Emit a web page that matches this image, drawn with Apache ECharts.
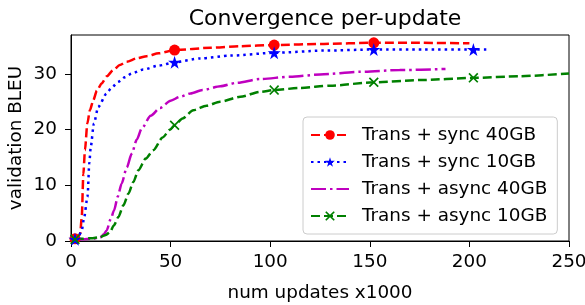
<!DOCTYPE html>
<html>
<head>
<meta charset="utf-8">
<script src="https://cdn.jsdelivr.net/npm/echarts@6/dist/echarts.min.js"></script>
<style>
  html, body { margin: 0; padding: 0; background: #fff; }
  #chart { width: 585px; height: 305px; }
</style>
</head>
<body>
<div id="chart"></div>
<script>
// values (x in thousands of updates, y = BLEU)
var sync40 = [[2,0.4],[4,1],[4.6,1.3],[5.4,4.3],[6.2,12],[7,16.3],[8.2,21.1],[9.5,23.5],[11.2,25.3],[13,27],[15.4,28.3],[18,29.6],[21.2,30.7],[24.5,31.6],[28,32.2],[33,32.8],[38,33.2],[44,33.7],[52,34.3],[70,34.7],[85,35],[102,35.2],[127,35.4],[152,35.6],[175,35.6],[200,35.5]];
var sync10 = [[2,0.3],[4,1],[5.4,1.9],[6.5,4],[8.3,8],[9.2,14],[9.9,16.9],[11.5,21.1],[13.7,24.1],[17.9,26.5],[20.5,27.6],[23.8,28.6],[27,29.4],[30.5,30.1],[36.3,30.8],[44,31.5],[52,32.1],[65,32.8],[80,33.3],[102,33.8],[127,34.2],[152,34.4],[177,34.4],[202,34.4],[209,34.4]];
var async40 = [[2,0.2],[6,0.3],[10,0.4],[14.6,0.6],[16.5,1.2],[17.9,1.9],[20,4],[21.6,5.5],[23.5,8],[25.4,10.3],[28,13.2],[30.5,15.7],[33,18.2],[35.5,20.2],[40,22.5],[44.7,23.9],[50,25.2],[54.7,25.9],[60,26.5],[66,27.1],[75,27.8],[83,28.4],[95,29.1],[110,29.5],[125,29.9],[145,30.4],[165,30.7],[188,30.9]];
var async10 = [[2,0.3],[5,0.4],[10,0.5],[14.6,0.7],[17.5,1.1],[19.6,1.6],[21.5,2.8],[23.8,4.3],[26.3,6.4],[28.8,8.5],[31.3,10.6],[33.8,12.7],[37.5,14.8],[41.3,16.3],[46,18.6],[49.7,20],[52,20.8],[56,22],[61.4,23.5],[68,24.3],[74.8,25],[85,25.9],[95,26.8],[102,27.1],[115,27.5],[130,27.9],[152,28.5],[175,28.9],[202,29.3],[225,29.6],[250,30.1]];
var markerX = [2, 52, 102, 152, 202];
var xTicks = [0, 50, 100, 150, 200, 250];
var yTicks = [0, 10, 20, 30];

var FONT = 'DejaVu Sans';

// matplotlib-like star and x markers
function starPath() {
    var d = '';
    for (var i = 0; i < 10; i++) {
        var r = i % 2 ? 0.382 : 1;
        var a = (-90 + i * 36) * Math.PI / 180;
        d += (i ? 'L' : 'M') + (r * Math.cos(a)).toFixed(3) + ',' + (r * Math.sin(a)).toFixed(3);
    }
    return 'path://' + d + 'Z';
}
var xPath = 'path://M0,1.2L1.2,0L5,3.8L8.8,0L10,1.2L6.2,5L10,8.8L8.8,10L5,6.2L1.2,10L0,8.8L3.8,5Z';

function withMarkers(points) {
    return points.map(function (p) {
        if (markerX.indexOf(p[0]) >= 0) return { value: p };
        return { value: p, symbol: 'none' };
    });
}

function makeSeries(name, points, color, dash, symbol, size) {
    return {
        name: name,
        type: 'line',
        data: symbol === 'none' ? points : withMarkers(points),
        symbol: symbol,
        symbolSize: size,
        showSymbol: symbol !== 'none',
        smooth: 0.25,
        smoothMonotone: 'x',
        color: color,
        itemStyle: { color: color },
        lineStyle: { color: color, width: 2.5, type: dash },
        emphasis: { disabled: true },
        animation: false
    };
}

var chart = echarts.init(document.getElementById('chart'));

var legendText = { fontFamily: FONT, fontSize: 18.4, color: '#000', padding: [0, 0, 0, 8] };

var option = {
    backgroundColor: '#fff',
    title: {
        text: 'Convergence per-update',
        left: 320,
        top: 3,
        textAlign: 'center',
        textStyle: { fontFamily: FONT, fontSize: 22, fontWeight: 'normal', color: '#000' }
    },
    grid: {
        left: 71, right: 16, top: 35, bottom: 64,
        containLabel: false,
        outerBoundsMode: 'none',
        show: true, borderColor: '#000', borderWidth: 1, backgroundColor: 'transparent'
    },
    legend: {
        orient: 'vertical',
        left: 303,
        top: 117,
        width: 256,
        padding: [9, 10, 9, 7],
        itemWidth: 38,
        itemHeight: 12,
        itemGap: 9,
        borderColor: '#cccccc',
        borderWidth: 1,
        borderRadius: 4,
        backgroundColor: 'rgba(255,255,255,0.8)',
        textStyle: legendText,
        data: [
            'Trans + sync 40GB',
            'Trans + sync 10GB',
            { name: 'Trans + async 40GB', itemStyle: { opacity: 0 } },
            'Trans + async 10GB'
        ]
    },
    xAxis: {
        type: 'value',
        min: 0,
        max: 250,
        interval: 50,
        name: 'num updates x1000',
        nameLocation: 'middle',
        nameGap: 43,
        nameTextStyle: { fontFamily: FONT, fontSize: 18.4, color: '#000' },
        splitLine: { show: false },
        axisLine: { lineStyle: { color: '#000', width: 1 } },
        axisTick: { show: true, length: 6, lineStyle: { color: '#000' }, customValues: xTicks },
        axisLabel: { fontFamily: FONT, fontSize: 18.4, color: '#000', margin: 12, customValues: xTicks }
    },
    yAxis: {
        type: 'value',
        min: 0,
        max: 37,
        name: 'validation BLEU',
        nameLocation: 'middle',
        nameGap: 46,
        nameMoveOverlap: false,
        nameTextStyle: { fontFamily: FONT, fontSize: 18.4, color: '#000' },
        splitLine: { show: false },
        axisLine: { show: true, lineStyle: { color: '#000', width: 1 } },
        axisTick: { show: true, length: 6, lineStyle: { color: '#000' }, customValues: yTicks },
        axisLabel: { fontFamily: FONT, fontSize: 18.4, color: '#000', margin: 14, customValues: yTicks }
    },
    series: [
        makeSeries('Trans + sync 40GB', sync40, '#ff0000', [9, 4], 'circle', 11),
        makeSeries('Trans + sync 10GB', sync10, '#0000ff', [2.5, 4], starPath(), 13),
        makeSeries('Trans + async 40GB', async40, '#bf00bf', [15, 4, 2.5, 4], 'none', 0),
        makeSeries('Trans + async 10GB', async10, '#008000', [9, 4], xPath, 10)
    ]
};

chart.setOption(option);
</script>
</body>
</html>
